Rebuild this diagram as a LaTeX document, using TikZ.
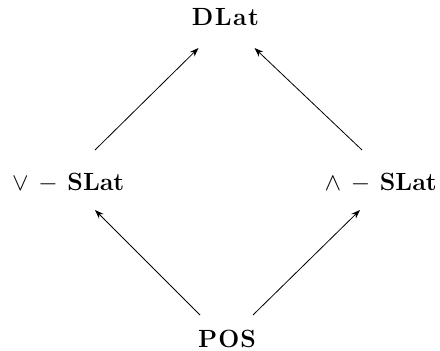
\documentclass[tikz,border=0pt]{standalone}
\usetikzlibrary{arrows.meta,calc}
\tikzset{
  lbl/.style={inner sep=0pt, font=\Huge},
  arr/.style={line width=0.8pt, -{Stealth[length=9pt,width=6.5pt]}}
}
\begin{document}
\begin{tikzpicture}[x=1pt,y=-1pt]
\useasboundingbox (0,0) rectangle (440,351);
\node[lbl, anchor=base] (dl) at (225.5,25) {\textbf{D\kern1.5pt L\kern1.5pt a\kern1.5pt t}};
\node[lbl, anchor=base west] (vs) at (12,190) {$\vee\,-\,\mathbf{SLat}$};
\node[lbl, anchor=base east] (ws) at (437,190) {$\wedge\,-\,\mathbf{SLat}$};
\node[lbl, anchor=base] (po) at (227,347) {\textbf{P\kern1pt O\kern1pt S}};
\draw[arr] ($(vs.base west)+(83,-40)$) -- ($(dl.base)+(-27,23)$);
\draw[arr] ($(ws.base east)+(-75,-40)$) -- ($(dl.base)+(29,23)$);
\draw[arr] ($(po.base)+(-27,-32)$) -- ($(vs.base west)+(83,20)$);
\draw[arr] ($(po.base)+(26,-32)$) -- ($(ws.base east)+(-77,20)$);
\end{tikzpicture}
\end{document}
